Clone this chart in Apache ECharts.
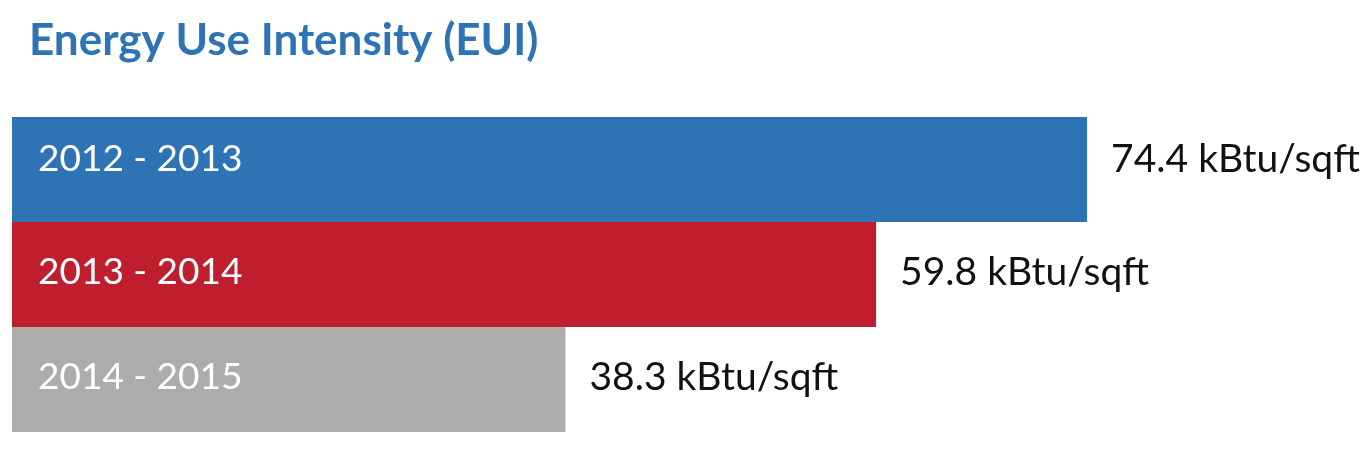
<!DOCTYPE html>
<html>
<head>
<meta charset="utf-8">
<script src="https://cdn.jsdelivr.net/npm/echarts@6/dist/echarts.min.js"></script>
<style>
  html, body { margin: 0; padding: 0; background: #fff; }
  #eui { width: 1371px; height: 449px; }
</style>
</head>
<body>
<div id="eui"></div>
<script>
// data
var periods = ['2012 - 2013', '2013 - 2014', '2014 - 2015'];
var euiValues = [74.4, 59.8, 38.3];
var unit = 'kBtu/sqft';

var barColors = ['#2E74B5', '#BE1E2D', '#ADACAB'];
var labelNudge = [-10, -2, -2]; // vertical shift of the texts in each bar

var chart = echarts.init(document.getElementById('eui'));

var seriesData = euiValues.map(function (v, i) {
  return {
    value: v,
    itemStyle: { color: barColors[i] },
    label: { offset: [24, labelNudge[i]] }
  };
});

var nameData = euiValues.map(function (v, i) {
  return {
    value: v,
    label: { offset: [26, labelNudge[i]] }
  };
});

chart.setOption({
  animation: false,
  textStyle: { fontFamily: 'Lato' },
  title: {
    text: 'Energy Use Intensity (EUI)',
    left: 24,
    top: 14,
    textStyle: {
      color: '#2E74B5',
      fontFamily: 'Lato',
      fontWeight: 'bold',
      fontSize: 44
    }
  },
  grid: { left: 12, top: 117, width: 1156, height: 315 },
  xAxis: {
    type: 'value',
    min: 0,
    max: 80,
    show: false
  },
  yAxis: {
    type: 'category',
    data: periods,
    inverse: true,
    show: false
  },
  series: [
    {
      // bars + value text on the right
      type: 'bar',
      data: seriesData,
      barWidth: '100%',
      barCategoryGap: 0,
      label: {
        show: true,
        position: 'right',
        distance: 0,
        color: '#111',
        fontFamily: 'Lato',
        fontSize: 39,
        formatter: function (p) { return p.value + ' ' + unit; }
      }
    },
    {
      // period text inside each bar, drawn on top of the first series
      type: 'bar',
      data: nameData,
      barWidth: '100%',
      barGap: '-100%',
      itemStyle: { color: 'transparent' },
      silent: true,
      label: {
        show: true,
        position: 'insideLeft',
        distance: 0,
        color: '#fff',
        fontFamily: 'Lato',
        fontSize: 37,
        formatter: function (p) { return periods[p.dataIndex]; }
      }
    }
  ]
});
</script>
</body>
</html>
